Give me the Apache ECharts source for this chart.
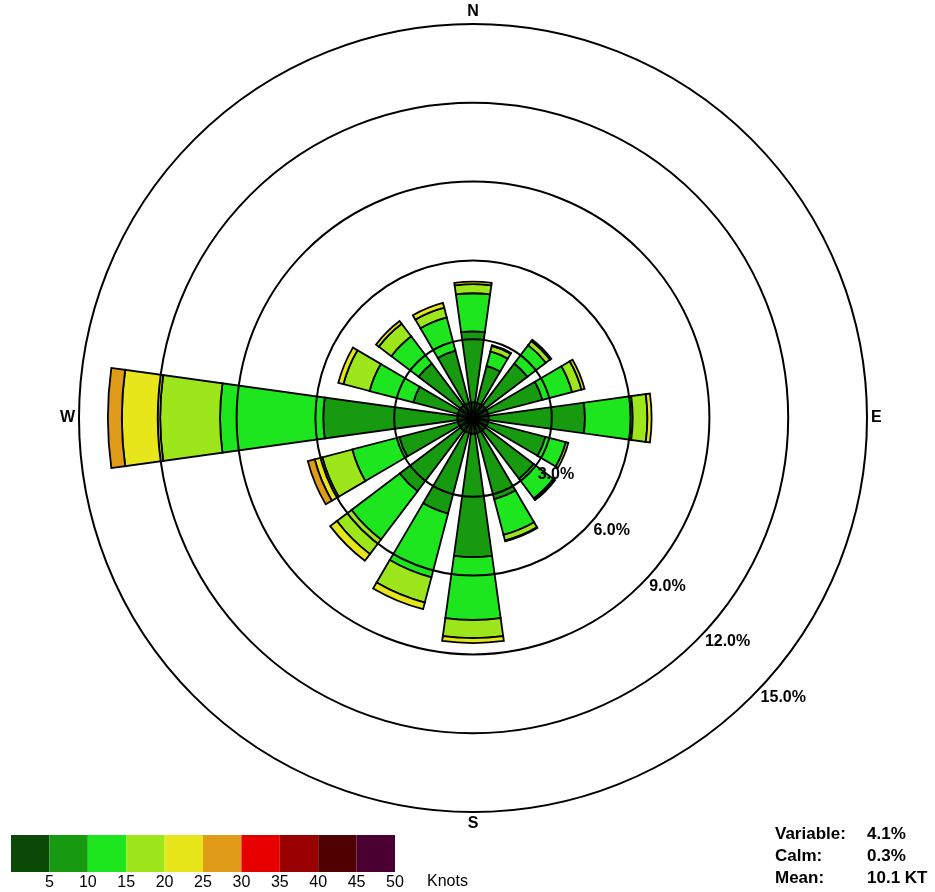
<!DOCTYPE html>
<html>
<head>
<meta charset="utf-8">
<script src="https://cdn.jsdelivr.net/npm/echarts@6/dist/echarts.min.js"></script>
<style>
  html, body { margin: 0; padding: 0; background: #ffffff; }
  #chart { width: 935px; height: 892px; }
</style>
</head>
<body>
<div id="chart"></div>
<script>
// Wind directions, clockwise from north
const directions = ['N', 'NNE', 'NE', 'ENE', 'E', 'ESE', 'SE', 'SSE',
                    'S', 'SSW', 'SW', 'WSW', 'W', 'WNW', 'NW', 'NNW'];

// Frequency (%) of each wind speed class per direction
const speed0to5   = [0.6, 0.6, 0.6, 0.6, 0.6, 0.6, 0.6, 0.6, 0.6, 0.6, 0.6, 0.6, 0.6, 0.6, 0.6, 0.6];
const speed5to10  = [2.7, 1.45, 2.0, 2.13, 3.66, 2.25, 2.3, 2.6, 4.7, 3.16, 2.9, 2.3, 5.1, 1.75, 2.0, 2.05];
const speed10to15 = [1.45, 0.57, 0.88, 1.17, 1.82, 0.8, 0.94, 1.4, 2.39, 2.51, 2.3, 1.85, 3.93, 1.72, 1.3, 1.31];
const speed15to20 = [0.35, 0.22, 0.2, 0.37, 0.56, 0.1, 0.06, 0.22, 0.69, 0.99, 0.7, 1.18, 2.28, 1.03, 0.6, 0.38];
const speed20to25 = [0.09, 0.03, 0.06, 0.12, 0.16, 0, 0.02, 0.03, 0.19, 0.26, 0.32, 0.3, 1.46, 0.2, 0.13, 0.19];
const speed25to30 = [0, 0, 0, 0, 0, 0, 0, 0, 0, 0, 0, 0.27, 0.53, 0, 0, 0];

// Speed class upper bounds (knots) and their colours
const speedTicks  = [5, 10, 15, 20, 25, 30, 35, 40, 45, 50];
const speedColors = ['#0b4a06', '#179a10', '#1ee61e', '#9ce61b', '#e6e61b',
                     '#e09b18', '#e60000', '#9b0000', '#500000', '#4b0032'];

// Frequency rings (%)
const ringPercents = [3, 6, 9, 12, 15];

// Summary figures
const statNames  = ['Variable:', 'Calm:', 'Mean:'];
const statValues = ['4.1%', '0.3%', '10.1 KT'];

const speedBands = [speed0to5, speed5to10, speed10to15, speed15to20, speed20to25, speed25to30];
const compassLabels = { N: true, E: true, S: true, W: true };
const FONT = 'Liberation Sans, Arial, sans-serif';

const chart = echarts.init(document.getElementById('chart'), null, { renderer: 'canvas' });

const roseSeries = speedBands.map((band, i) => ({
  type: 'bar',
  name: (speedTicks[i] - 5) + '-' + speedTicks[i],
  coordinateSystem: 'polar',
  polarIndex: 0,
  stack: 'speed',
  barCategoryGap: '30%',
  z: 2,
  data: band.map(v => (v > 0 ? v : '-')),
  itemStyle: { color: speedColors[i], borderColor: '#000', borderWidth: 1.8 },
  emphasis: { disabled: true }
}));

const option = {
  backgroundColor: '#ffffff',
  animation: false,
  polar: { center: [473, 418], radius: [0, 394] },
  angleAxis: {
    type: 'category',
    data: directions,
    startAngle: 90 + 360 / directions.length / 2,
    clockwise: true,
    boundaryGap: true,
    axisLine: { show: false },
    axisTick: { show: false },
    splitLine: { show: false },
    axisLabel: {
      margin: 4,
      interval: 0,
      color: '#000',
      fontFamily: FONT,
      fontWeight: 'bold',
      fontSize: 16,
      formatter: v => (compassLabels[v] ? v : '')
    }
  },
  radiusAxis: {
    type: 'value',
    min: 0,
    max: 15,
    interval: 3,
    z: 5,
    axisLine: { show: false },
    axisTick: { show: false },
    axisLabel: { show: false },
    splitLine: { show: true, lineStyle: { color: '#000', width: 2 } }
  },
  grid: { left: 11, top: 835, width: 384, height: 37 },
  xAxis: {
    type: 'value',
    min: 0,
    max: 50,
    interval: 5,
    axisLine: { show: false },
    axisTick: { show: false },
    splitLine: { show: false },
    axisLabel: {
      margin: 3,
      color: '#000',
      fontFamily: FONT,
      fontSize: 16,
      formatter: v => (v === 0 ? '' : String(v))
    }
  },
  yAxis: { type: 'value', min: 0, max: 1, show: false },
  series: roseSeries.concat([
    {
      // ring labels along the SE direction
      type: 'scatter',
      coordinateSystem: 'polar',
      symbolSize: 0,
      z: 20,
      itemStyle: { opacity: 1 },
      data: ringPercents.map(p => [p, 'SE']),
      label: {
        show: true,
        position: 'right',
        distance: 9,
        offset: [0, 1],
        color: '#000',
        opacity: 1,
        fontFamily: FONT,
        fontWeight: 'bold',
        fontSize: 16,
        formatter: p => p.value[0].toFixed(1) + '%'
      },
      emphasis: { disabled: true }
    },
    {
      // speed colour scale
      type: 'custom',
      coordinateSystem: 'cartesian2d',
      data: speedTicks.map(t => [t - 5, t]),
      renderItem: (params, api) => {
        const a = api.coord([api.value(0), 1]);
        const b = api.coord([api.value(1), 0]);
        return {
          type: 'rect',
          shape: { x: a[0], y: a[1], width: b[0] - a[0], height: b[1] - a[1] },
          style: { fill: speedColors[params.dataIndex] }
        };
      }
    }
  ]),
  graphic: [
    {
      type: 'text', left: 427, top: 874,
      style: { text: 'Knots', fill: '#000', font: '16px ' + FONT }
    }
  ].concat(statNames.map((name, i) => ({
    type: 'text', left: 775, top: 826 + i * 22,
    style: { text: name, fill: '#000', font: 'bold 17px ' + FONT }
  }))).concat(statValues.map((val, i) => ({
    type: 'text', left: 867, top: 826 + i * 22,
    style: { text: val, fill: '#000', font: 'bold 17px ' + FONT }
  })))
};

chart.setOption(option);
</script>
</body>
</html>
